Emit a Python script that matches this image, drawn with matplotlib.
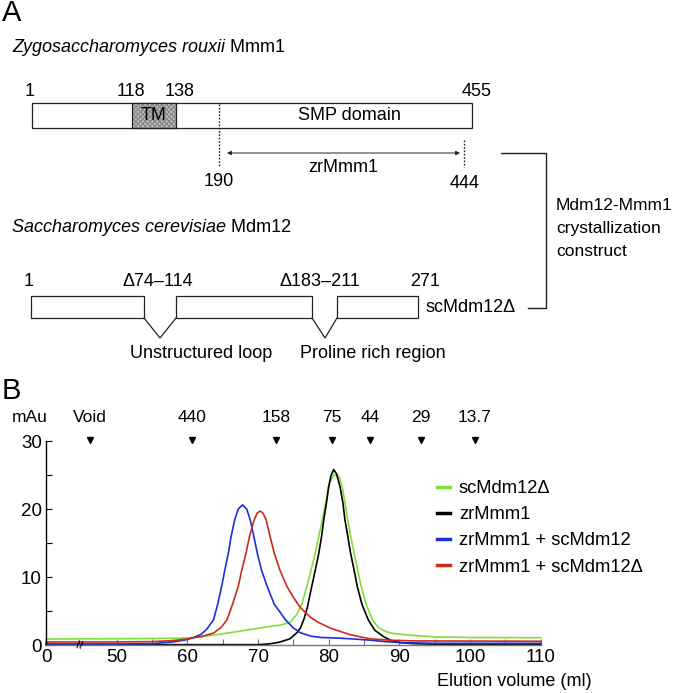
import numpy as np
import matplotlib
matplotlib.use("Agg")
import matplotlib.pyplot as plt
from matplotlib.patches import Rectangle

plt.rcParams['font.family'] = ['Liberation Sans', 'DejaVu Sans']

# ---------------- data (panel B) ----------------
# elution volume (ml) and absorbance (mAu)
green_x = [0, 45, 55, 59, 61, 62, 64, 66, 68.4, 70.8, 73, 74.5, 75.5, 76.2, 76.9, 77.5, 78.1, 78.6, 79.1,
           79.6, 80.0, 80.4, 80.8, 81.2, 81.6, 81.9, 82.3, 82.7, 83.1, 83.6, 84.1, 84.6, 85.3, 86.2, 87.0,
           87.8, 88.8, 90, 92, 95, 100, 110]
green_y = [0.88, 0.9, 0.95, 1.0, 1.1, 1.2, 1.5, 1.8, 2.2, 2.6, 2.9, 3.3, 4.5, 6.0, 8.6, 11.0, 13.5, 16.0, 18.4,
           21.0, 23.3, 24.5, 25.0, 25.1, 24.5, 23.3, 21.0, 18.4, 16.0, 13.5, 11.0, 8.6, 6.0, 3.7, 2.6,
           2.1, 1.75, 1.6, 1.4, 1.2, 1.1, 1.07]

black_x = [0, 70, 71.5, 73, 74.5, 75.5, 76.0, 76.5, 77.0, 77.6, 78.1, 78.6, 79.0, 79.3, 79.7, 80.0, 80.3,
           80.7, 81.1, 81.6, 82.0, 82.3, 82.7, 83.1, 83.6, 84.05, 84.7, 85.6, 86.5, 87.8, 89, 90.2, 92, 95, 110]
black_y = [0.05, 0.05, 0.15, 0.4, 0.9, 1.8, 2.5, 3.8, 5.6, 8.6, 11.0, 13.5, 16.0, 18.4, 21.0, 23.3, 24.8,
           25.8, 25.2, 23.3, 21.0, 18.4, 16.0, 13.5, 11.0, 8.6, 6.0, 3.7, 2.2, 1.2, 0.6, 0.35, 0.2, 0.12, 0.1]

blue_x = [0, 50, 55, 58, 60, 61, 62, 62.8, 63.7, 64.3, 64.85, 65.3, 65.8, 66.2, 66.7, 67.2, 67.8, 68.4, 68.9,
          69.4, 69.9, 70.5, 71.3, 72.3, 73.9, 75.0, 76.0, 77.5, 79, 81.7, 84, 86, 88, 90.2, 95, 110]
blue_y = [0.15, 0.15, 0.2, 0.45, 0.8, 1.15, 1.6, 2.4, 3.7, 6.0, 8.6, 11.0, 13.5, 16.0, 18.4, 20.0, 20.6, 20.0, 18.4,
          16.0, 13.5, 11.0, 8.6, 6.0, 3.7, 2.5, 1.8, 1.3, 1.1, 1.0, 0.85, 0.7, 0.5, 0.35, 0.25, 0.25]

red_x = [0, 50, 55, 58, 60, 61, 62, 63.7, 64.8, 65.6, 66.4, 67.2, 67.7, 68.3, 68.8, 69.45, 69.9, 70.3, 70.7,
         71.15, 71.7, 72.3, 73.1, 74.1, 75.0, 76.0, 77.4, 78.4, 80.3, 83.1, 85.9, 88.8, 92, 110]
red_y = [0.44, 0.45, 0.5, 0.65, 0.9, 1.1, 1.25, 1.75, 2.6, 3.7, 6.0, 8.6, 11.0, 13.5, 16.0, 18.4, 19.4, 19.7, 19.4,
         18.4, 16.0, 13.5, 11.0, 8.6, 7.0, 5.5, 4.1, 3.4, 2.45, 1.5, 0.9, 0.7, 0.6, 0.55]

series_labels = ['scMdm12\u0394', 'zrMmm1', 'zrMmm1 + scMdm12', 'zrMmm1 + scMdm12\u0394']
series_colors = ['#7fe03a', '#000000', '#1f2fd8', '#cc2a1a']

marker_labels = ['Void', '440', '158', '75', '44', '29', '13.7']
marker_volumes = [46.2, 60.6, 72.6, 80.5, 85.9, 93.0, 100.7]

x_tick_values = [0, 50, 60, 70, 80, 90, 100, 110]
y_tick_values = [0, 10, 20, 30]


def to_display(v):
    v = np.asarray(v, dtype=float)
    return np.where(v >= 45, v, 40 + v * 5.0 / 45.0)


W, H = 677, 693
fig = plt.figure(figsize=(W / 100, H / 100), dpi=100)

# ---------------- panel A (schematic, pixel coordinates) ----------------
axa = fig.add_axes([0, 0, 1, 1])
axa.set_xlim(0, W)
axa.set_ylim(H, 0)
axa.axis('off')

LC = '#222222'
fs = 13

axa.text(2, 13, 'A', fontsize=21, va='center', ha='left')
t1 = axa.text(12, 48, 'Zygosaccharomyces rouxii', fontsize=fs, style='italic', va='center', ha='left')
axa.annotate(' Mmm1', xy=(1, 0.5), xycoords=t1, fontsize=fs, va='center', ha='left')

# Mmm1 bar
axa.add_patch(Rectangle((32, 103), 440, 25, facecolor='white', edgecolor=LC, lw=0.9))
axa.add_patch(Rectangle((132, 103), 44, 25, facecolor='#c4c4c4', edgecolor='#8a8a8a', hatch='xxxxxxx', lw=0))
axa.plot([132, 132], [103, 128], color=LC, lw=0.9)
axa.plot([176, 176], [103, 128], color=LC, lw=0.9)
axa.plot([132, 176], [103, 103], color=LC, lw=0.9)
axa.plot([132, 176], [128, 128], color=LC, lw=0.9)
axa.text(154, 116, 'TM', fontsize=fs, ha='center', va='center')
axa.text(349, 115, 'SMP domain', fontsize=fs, ha='center', va='center')

mmm1_nums = ['1', '118', '138', '455']
mmm1_pos = [30, 131, 180, 477]
for t, xp in zip(mmm1_nums, mmm1_pos):
    axa.text(xp, 92, t, fontsize=fs, ha='center', va='center')

axa.plot([219, 219], [104, 167], color=LC, lw=1.0, ls=(0, (1.2, 1.2)))
axa.text(219, 182, '190', fontsize=fs, ha='center', va='center')
axa.plot([464, 464], [140, 167], color=LC, lw=1.0, ls=(0, (1.2, 1.2)))
axa.text(465, 183, '444', fontsize=fs, ha='center', va='center')
axa.annotate('', xy=(227, 153), xytext=(460, 153),
             arrowprops=dict(arrowstyle='<|-|>', color=LC, lw=0.7, mutation_scale=6, shrinkA=0, shrinkB=0))
axa.text(343, 167, 'zrMmm1', fontsize=fs, ha='center', va='center')

# bracket
axa.plot([501, 546, 546, 528], [153, 153, 308, 308], color=LC, lw=1.0)
for t, yp in zip(['Mdm12-Mmm1', 'crystallization', 'construct'], [205, 228, 251]):
    axa.text(556, yp, t, fontsize=12.5, ha='left', va='center')

t2 = axa.text(12, 227, 'Saccharomyces cerevisiae', fontsize=fs, style='italic', va='center', ha='left')
axa.annotate(' Mdm12', xy=(1, 0.5), xycoords=t2, fontsize=fs, va='center', ha='left')

# Mdm12 boxes
for x0, x1 in [(31, 144), (176, 312), (337, 418)]:
    axa.add_patch(Rectangle((x0, 296), x1 - x0, 22, facecolor='white', edgecolor=LC, lw=0.9))
axa.plot([144, 160, 176], [318, 338, 318], color=LC, lw=0.9)
axa.plot([312, 325, 337], [318, 338, 318], color=LC, lw=0.9)

mdm_nums = ['1', '\u039474\u2013114', '\u0394183\u2013211', '271']
mdm_pos = [29, 158, 320, 425]
for t, xp in zip(mdm_nums, mdm_pos):
    axa.text(xp, 281, t, fontsize=fs, ha='center', va='center')
axa.text(426, 308, 'scMdm12\u0394', fontsize=fs, ha='left', va='center')
axa.text(201, 354, 'Unstructured loop', fontsize=fs, ha='center', va='center')
axa.text(373, 354, 'Proline rich region', fontsize=fs, ha='center', va='center')

# ---------------- panel B ----------------
axa.text(2, 391, 'B', fontsize=21, va='center', ha='left')
axa.text(30, 417, 'mAu', fontsize=12.5, ha='center', va='center')
axa.text(592, 681, 'Elution volume (ml)', fontsize=13, ha='right', va='center')

ax = fig.add_axes([46 / W, (H - 645) / H, (540.7 - 46) / W, 204 / H])
ax.set_xlim(40, 110)
ax.set_ylim(0, 30)
ax.patch.set_alpha(0)

all_x = [green_x, black_x, blue_x, red_x]
all_y = [green_y, black_y, blue_y, red_y]
for xs, ys, c, lab in zip(all_x, all_y, series_colors, series_labels):
    ax.plot(to_display(xs), ys, color=c, lw=1.2, label=lab, clip_on=False)

for s in ['top', 'right']:
    ax.spines[s].set_visible(False)
ax.spines['left'].set_linewidth(1.0)
ax.spines['bottom'].set_color('#777777')
ax.spines['bottom'].set_linewidth(1.0)

ax.set_xticks(to_display(x_tick_values))
ax.set_xticklabels([str(v) for v in x_tick_values])
ax.set_xticks([55, 65, 75, 85, 95, 105], minor=True)
ax.set_yticks(y_tick_values)
ax.set_yticks([5, 15, 25], minor=True)
ax.tick_params(axis='both', which='both', direction='in', length=4, width=0.8, labelsize=13.5)
ax.tick_params(axis='x', which='both', pad=3, colors='#777777', labelcolor='black')
ax.tick_params(axis='y', which='both', pad=3)

# axis break mark
ax.text(to_display(45), 0.1, '\u2248', fontsize=12, rotation=75, ha='center', va='center', clip_on=False)

# marker triangles and labels
md = to_display(marker_volumes)
ax.plot(md, [30.2] * len(md), linestyle='none', marker='v', color='black', markersize=4.5, clip_on=False)
for t, xv in zip(marker_labels, md):
    ax.text(xv, 33.4, t, fontsize=12.5, ha='center', va='center', clip_on=False)

leg = ax.legend(loc='upper left', bbox_to_anchor=(437 / W, (H - 480) / H), bbox_transform=fig.transFigure,
                frameon=False, fontsize=13.2, handlelength=0.7, handletextpad=0.5, labelspacing=0.5,
                borderaxespad=0, borderpad=0)
for l in leg.get_lines():
    l.set_linewidth(2.5)

fig.savefig('out.png', dpi=100)
